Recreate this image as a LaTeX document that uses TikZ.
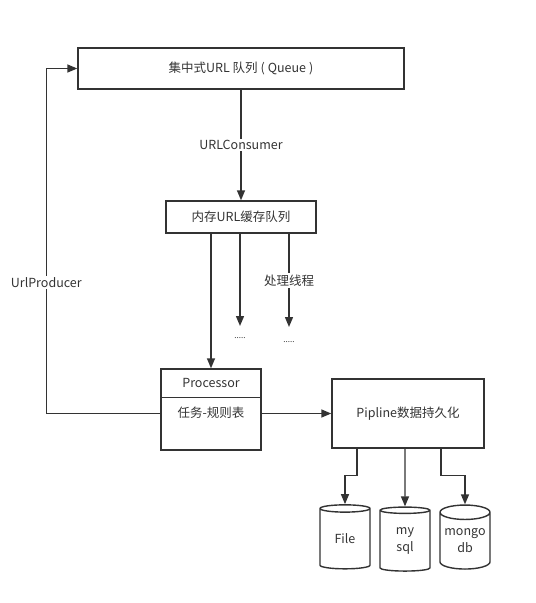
\documentclass[tikz,border=0pt]{standalone}
\usepackage{fontspec}
\setmainfont{Noto Sans CJK SC}
\usetikzlibrary{positioning,arrows.meta,shapes.geometric}

\definecolor{ink}{HTML}{333333}
\tikzset{
  box/.style={draw=ink, line width=1.4pt, inner sep=0pt},
  conn/.style={draw=ink, line width=1.4pt},
  arr/.style={conn, -{Triangle[width=8pt,length=10pt]}},
  lbl/.style={fill=white, inner sep=1.5pt},
  db/.style={draw=ink, line width=1.4pt, cylinder, shape border rotate=90, aspect=0.35,
    minimum width=50pt, minimum height=64pt, align=center, inner sep=0pt},
}

\begin{document}
\begin{tikzpicture}[x=1pt, y=-1pt, font=\fontsize{12.5}{17}\selectfont, text=ink]
    \useasboundingbox (0,0) rectangle (536,603);

    % queues
    \node[box, minimum width=326pt, minimum height=41pt] (queue) at (241,68.5) {集中式URL 队列\ (\hspace{3pt}Queue\hspace{3pt})};
    \node[box, minimum width=150pt, minimum height=32pt] (cache) at (241,217) {内存URL缓存队列};

    % processor
    \node[box, minimum width=100pt, minimum height=81pt] (proc) at (211,409.5) {};
    \node[below = 0pt of proc.north, minimum height=29pt, inner sep=0pt] (procTitle) {Processor};
    \node[below = 0pt of procTitle, minimum height=30pt, inner sep=0pt] (procRules) {任务-规则表};
    \draw[conn] (procTitle.south -| proc.west) -- (procTitle.south -| proc.east);

    % persistence
    \node[box, minimum width=152pt, minimum height=69pt] (pipe) at (408,413.5) {Pipline数据持久化};
    \node[db] (file) at (345,539) {File};
    \node[db] (mysql) at (405,541) {my\\sql};
    \node[db] (mongo) at (465,541) {mongo\\db};

    % threads
    \node[font=\fontsize{8}{8}\selectfont] (dotsA) at (240,338) {.....};
    \node[font=\fontsize{8}{8}\selectfont] (dotsB) at (289,342) {.....};

    \draw[arr] (queue) -- node[lbl] {URLConsumer} (cache);
    \draw[arr] (cache.south -| proc) -- (proc);
    \draw[arr] (cache.south -| dotsA) -- ([yshift=12pt]dotsA.center);
    \draw[arr] (cache.south -| dotsB) -- node[lbl] {处理线程} ([yshift=15pt]dotsB.center);

    \draw[arr] (proc.east |- pipe) -- (pipe);
    \draw[arr] (proc.west |- pipe) -- ++(-114,0) |- node[lbl, pos=0.19] {UrlProducer} (queue);

    \draw[arr] ([xshift=-51pt]pipe.south) -- ++(0,27) -| (file.north);
    \draw[arr] (pipe.south -| mysql) -- (mysql.north);
    \draw[arr] ([xshift=33pt]pipe.south) -- ++(0,27) -| (mongo.north);
\end{tikzpicture}
\end{document}
